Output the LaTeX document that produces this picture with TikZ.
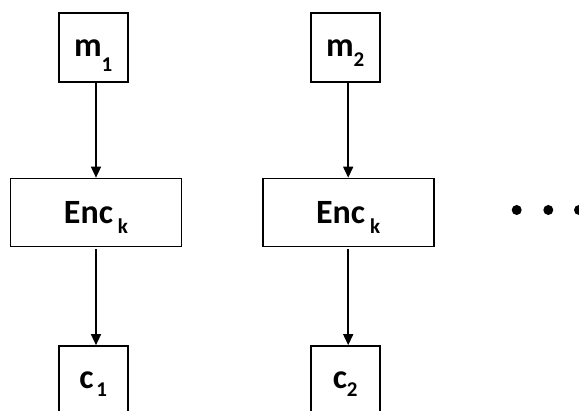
\documentclass[tikz,border=0pt]{standalone}
\usepackage{fontspec}
\setmainfont{Carlito}
\usetikzlibrary{arrows.meta}
\newcommand{\subdrop}[2]{\smash{\raisebox{-#1}{\fontsize{21}{21}\selectfont #2}}}
\tikzset{
  blk/.style={draw, line width=1.7pt, inner sep=0pt, font=\fontsize{34}{34}\selectfont\bfseries},
  sq/.style={blk, minimum width=69pt, minimum height=69pt},
  encbox/.style={blk, minimum width=171pt, minimum height=68pt},
  arr/.style={line width=1.5pt, -{Triangle[width=10pt,length=11pt]}},
  dotc/.style={fill=black, circle, inner sep=0pt, minimum size=10pt}
}
\begin{document}
\begin{tikzpicture}[x=1pt,y=-1pt]
\useasboundingbox (0,0) rectangle (579,411);
\node[sq] (m1) at (93.2,47.8) {m\subdrop{15pt}{1}};
\node[encbox] (e1) at (96,212.5) {Enc\hspace{5pt}\subdrop{10.5pt}{k}};
\node[sq] (c1) at (93.2,380.5) {c\hspace{3pt}\subdrop{8pt}{1}};
\node[sq] (m2) at (345.2,47.8) {m\subdrop{10pt}{2}};
\node[encbox] (e2) at (348.2,212.5) {Enc\hspace{5pt}\subdrop{10.5pt}{k}};
\node[sq] (c2) at (345.2,380.5) {c\subdrop{8pt}{2}};
\draw[arr] (m1.south -| e1.north) -- (e1.north);
\draw[arr, shorten <=2pt] (e1.south) -- (e1.south |- c1.north);
\draw[arr] (m2.south -| e2.north) -- (e2.north);
\draw[arr, shorten <=2pt] (e2.south) -- (e2.south |- c2.north);
\node[dotc] (d1) at (516.7,210) {};
\node[dotc] (d2) at (548.3,210) {};
\node[dotc] (d3) at (579,210) {};
\end{tikzpicture}
\end{document}
